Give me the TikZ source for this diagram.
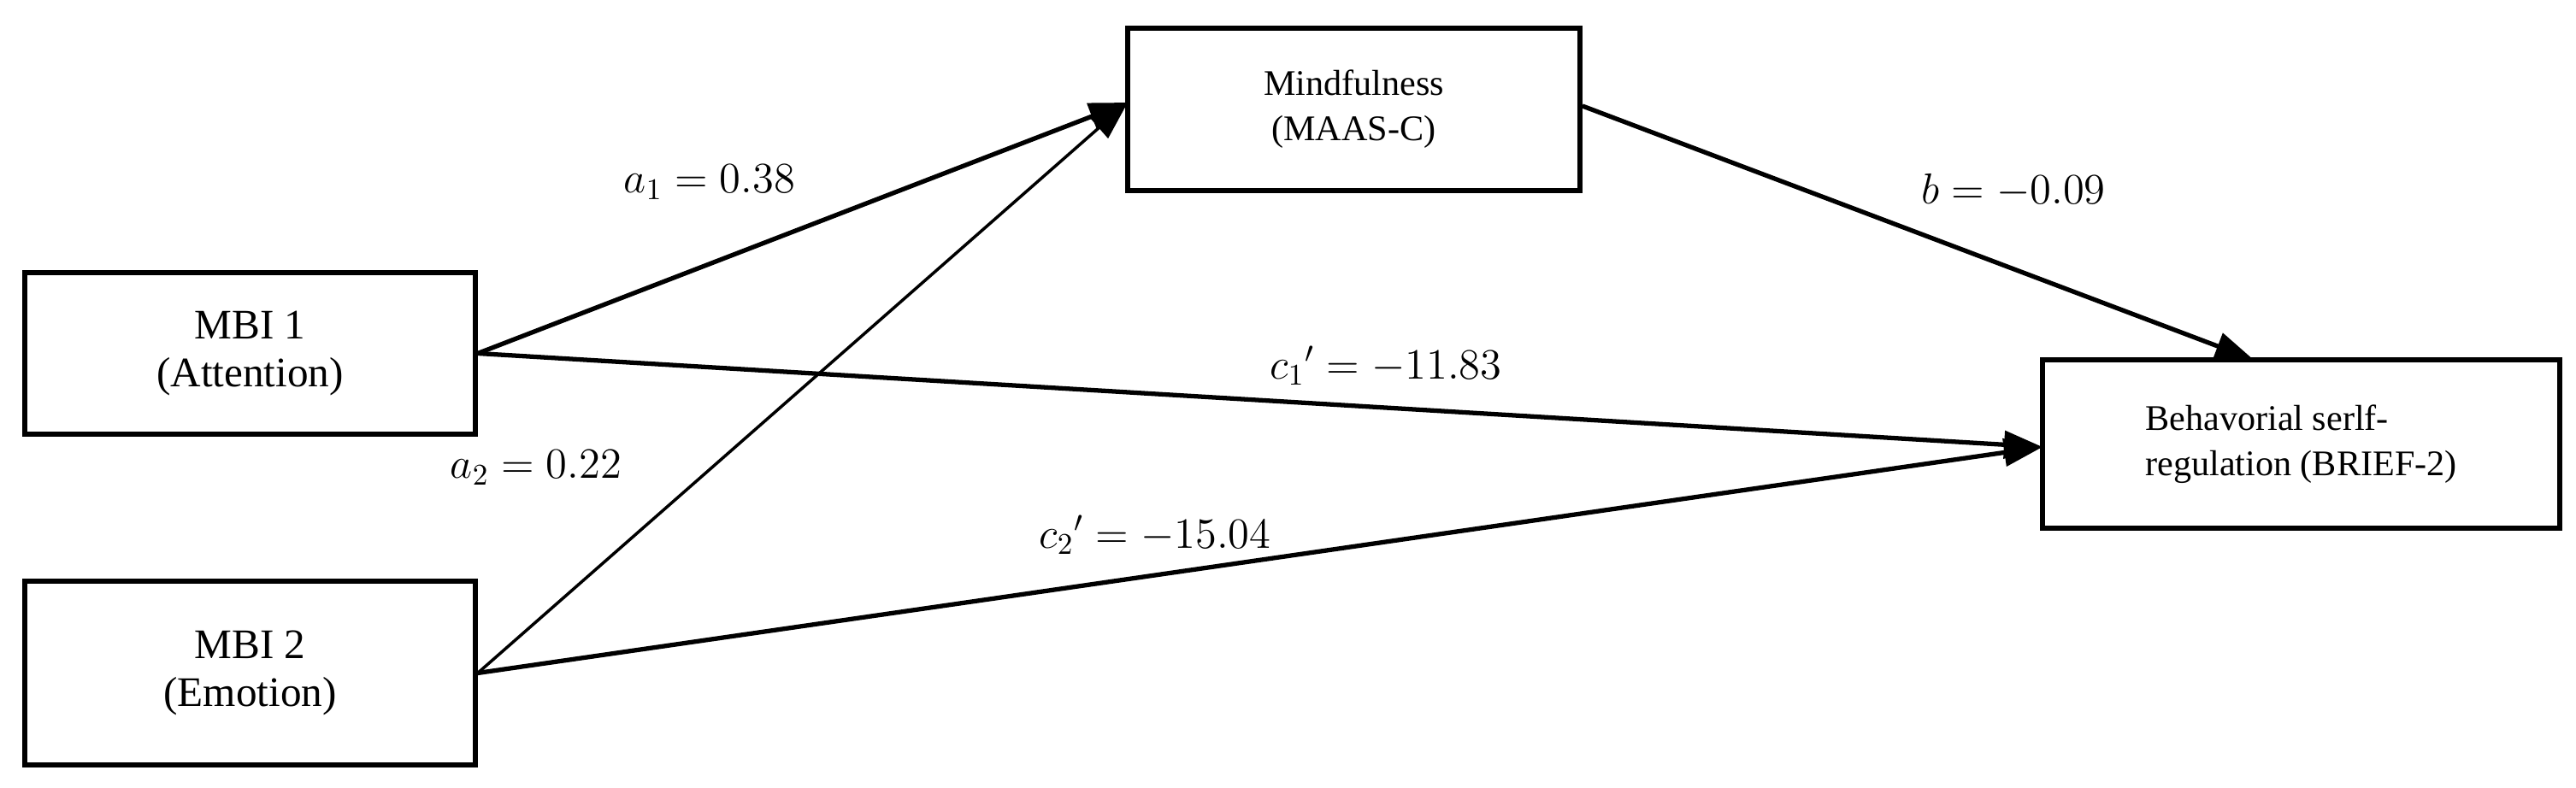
\documentclass[tikz,border=0pt]{standalone}
\usepackage{fontspec}
\setmainfont{Liberation Serif}
\usetikzlibrary{arrows.meta}
\tikzset{VarBox/.style={
    inner sep=0pt,
    draw=black,
    line width=1.6pt,
    fill=white,
    align=center,
    font=\fontsize{14}{16}\selectfont
    }
}
\tikzset{Path/.style={
    line width=1.5pt,
    -{Triangle[length=0.45cm,width=0.32cm]}
    }
}
\tikzset{Coef/.style={
    font=\fontsize{14}{16}\selectfont
    }
}

\begin{document}
\begin{tikzpicture}[draw=black]
    \useasboundingbox (0,0) rectangle (30.13,9.22);

    \node (mbi1) [VarBox, minimum width=5.27cm, minimum height=1.89cm] at (2.925,5.085) {MBI 1\\(Attention)};
    \node (mbi2) [VarBox, minimum width=5.27cm, minimum height=2.15cm] at (2.925,1.345) {MBI 2\\(Emotion)};
    \node (maas) [VarBox, minimum width=5.29cm, minimum height=1.90cm, font=\fontsize{12}{15}\selectfont] at (15.835,7.94) {Mindfulness\\(MAAS-C)};
    \node (brief) [VarBox, minimum width=6.05cm, minimum height=1.97cm, align=left, font=\fontsize{12}{15}\selectfont] at (26.915,4.025) {Behavorial serlf-\\regulation (BRIEF-2)};

    \coordinate (m_in) at (13.19,8.02);
    \coordinate (b_in) at (23.89,3.99);
    \coordinate (b_top) at (26.36,5.01);

    \draw [Path] (mbi1.east) -- (m_in);
    \draw [Path, line width=1pt] (mbi2.east) -- (m_in);
    \draw [Path] (maas.east |- 0,7.98) -- (b_top);
    \draw [Path] (mbi1.east) -- (b_in);
    \draw [Path] (mbi2.east) -- (b_in);

    \node (a1) [Coef] at (8.3,7.09) {$a_1 = 0.38$};
    \node (a2) [Coef] at (6.27,3.75) {$a_2 = 0.22$};
    \node (bb) [Coef] at (23.55,6.99) {$b = -0.09$};
    \node (c1) [Coef] at (16.21,4.94) {$c_1{}' = -11.83$};
    \node (c2) [Coef] at (13.51,2.96) {$c_2{}' = -15.04$};
\end{tikzpicture}
\end{document}
